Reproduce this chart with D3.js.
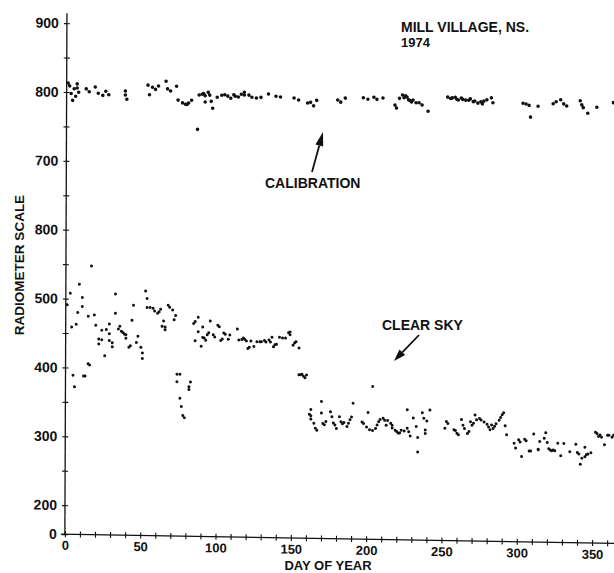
<!DOCTYPE html>
<html>
<head>
<meta charset="utf-8">
<script src="https://cdn.jsdelivr.net/npm/d3@7"></script>
<style>
  html, body { margin: 0; padding: 0; background: #fff; }
  svg { display: block; }
  text { font-family: "Liberation Sans", Arial, Helvetica, sans-serif; font-weight: bold; fill: #111; }
</style>
</head>
<body>
<svg id="chart" width="614" height="573"></svg>
<script>
// Daily radiometer readings, Mill Village N.S., 1974
const calibrationDay = [1,2,4,7,7,8,6,3,5,19,21,24,26,28,13,15,39,39,40,54,57,59,61,55,66,67,69,73,74,77,79,81,83,80,87,88,90,92,94,92,96,97,91,95,100,103,105,107,109,111,112,114,116,118,118,121,123,126,129,134,139,142,151,154,160,162,164,166,180,182,185,197,200,204,206,210,218,219,221,223,224,225,226,227,228,229,230,232,234,236,240,253,255,256,258,259,260,262,263,265,267,268,270,271,273,275,276,277,279,282,283,303,305,307,308,313,323,325,328,330,332,341,342,343,346,352,363];
const calibrationValue = [813,809,788,812,806,800,794,798,805,808,799,796,802,797,805,801,803,797,791,812,809,806,811,798,818,807,804,811,791,787,785,787,791,785,749,799,800,798,803,789,790,780,801,799,796,799,800,798,795,800,798,797,801,800,804,800,797,796,797,802,799,798,797,794,790,791,786,794,795,792,798,799,797,800,797,799,789,785,799,804,800,803,801,797,796,794,797,793,793,790,781,802,800,801,802,799,798,801,799,798,798,800,796,797,794,796,793,797,799,802,795,795,794,792,775,791,795,798,801,795,792,800,794,790,782,791,798];

const clearSkyDay = [17,9,3,1,11,11,8,7,4,15,19,20,22,22,24,24,26,27,29,29,29,31,31,33,33,35,37,38,39,40,36,40,42,43,44,45,47,48,50,51,51,53,54,54,56,58,59,61,62,63,64,65,66,66,68,69,71,72,73,74,76,74,76,77,79,78,83,82,82,85,86,88,86,88,90,91,91,92,93,94,95,96,98,99,101,102,103,104,105,106,108,109,114,115,117,118,119,120,121,122,123,125,127,129,130,132,133,135,136,137,138,139,140,142,144,146,148,149,149,151,152,153,155,155,156,157,158,160,159,5,6,12,13,15,16,
  162,163,163,163,165,166,167,170,170,171,172,173,176,177,178,179,180,182,183,184,185,187,188,189,190,191,197,198,201,200,202,204,204,206,207,208,209,211,212,213,214,216,217,217,219,220,221,222,223,225,227,227,228,229,231,233,234,234,237,238,239,239,240,242,
  252,253,254,258,259,260,261,263,264,265,267,268,269,270,271,272,273,275,276,278,280,281,282,283,284,285,286,288,289,290,291,292,293,
  298,299,301,302,303,305,306,308,309,311,314,314,315,318,319,320,321,322,323,324,325,327,329,331,335,339,340,341,342,343,345,345,346,347,349,352,353,354,355,356,358,360,361,363,364];
const clearSkyValue = [548,521,508,491,502,489,480,463,459,475,477,462,442,435,441,455,418,456,450,464,440,437,431,508,480,457,454,452,450,449,461,444,431,433,470,492,438,447,431,415,423,513,502,489,489,488,484,481,483,487,462,470,461,457,493,490,486,472,478,393,393,382,358,346,330,333,382,375,371,467,470,476,442,455,434,462,447,446,443,451,454,471,451,448,465,463,443,445,454,452,445,451,460,444,445,447,445,443,432,434,443,435,442,442,442,444,442,445,442,449,435,438,439,449,448,448,456,457,453,438,441,443,434,395,395,396,393,395,391,389,372,388,388,406,404,
  338,336,345,331,325,318,315,357,340,325,323,328,342,335,326,323,318,335,328,325,327,321,326,331,335,355,328,326,342,321,317,316,380,319,324,329,332,334,331,324,331,327,324,320,317,315,313,313,317,316,347,320,315,309,335,323,307,286,343,335,318,313,331,347,
  321,331,328,319,318,314,312,334,326,321,314,317,331,326,329,341,334,336,334,331,328,324,320,327,322,325,329,334,338,342,345,326,313,
  301,294,306,303,282,307,305,290,290,315,293,292,304,309,317,303,294,292,291,292,291,302,284,302,290,301,289,287,272,281,297,283,286,287,289,319,317,313,315,312,301,315,315,312,315];

const xTickValues = [0, 50, 100, 150, 200, 250, 300, 350];
const xMinorStep = 10;
const yTickValues = [0, 200, 300, 400, 500, 600, 700, 800, 900];
const yTickLabels = ["0", "200", "300", "400", "500", "800", "700", "800", "900"];
const yMinorStep = 50;

const calibration = calibrationDay.map((d, i) => ({ day: d, value: calibrationValue[i] }));
const clearSky = clearSkyDay.map((d, i) => ({ day: d, value: clearSkyValue[i] }));

// The value axis is broken: 0 sits just below 200.
const x = d3.scaleLinear().domain([0, 350]).range([67, 594.2]);
const y = d3.scaleLinear().domain([0, 200, 900]).range([533, 504, 22]);

const svg = d3.select("#chart");

// Plot frame, printed slightly out of square
const frame = svg.append("g").attr("transform", "matrix(1,0.017,-0.004,1,0,0)");

// Value axis
const yLabelOf = new Map(yTickValues.map((v, i) => [v, yTickLabels[i]]));
const yAxisTicks = [0].concat(d3.range(200, 901, yMinorStep));
const yAxis = d3.axisLeft(y)
  .tickValues(yAxisTicks)
  .tickSizeInner(3)
  .tickSizeOuter(0)
  .tickPadding(5)
  .tickFormat(v => yLabelOf.has(v) ? yLabelOf.get(v) : "");
const gy = frame.append("g").attr("transform", `translate(${x(0)},0)`).call(yAxis);
gy.select(".domain").remove();
gy.selectAll(".tick line").attr("x1", 3).attr("stroke", "#111").attr("stroke-width", 1.1);
gy.selectAll(".tick text").attr("font-size", 14).attr("fill", "#111")
  .style("font-family", '"Liberation Sans", Arial, sans-serif').style("font-weight", "bold");
frame.append("line")
  .attr("x1", x(0)).attr("x2", x(0)).attr("y1", 12).attr("y2", y(0))
  .attr("stroke", "#111").attr("stroke-width", 1.3);

// Day axis
const xAxis = d3.axisBottom(x)
  .tickValues(d3.range(0, 366, xMinorStep))
  .tickSizeInner(3)
  .tickSizeOuter(0)
  .tickPadding(3.5)
  .tickFormat(v => xTickValues.includes(v) ? String(v) : "");
const gx = frame.append("g").attr("transform", `translate(0,${y(0)})`).call(xAxis);
gx.select(".domain").remove();
gx.selectAll(".tick line").attr("y1", -3).attr("stroke", "#111").attr("stroke-width", 1.1);
gx.selectAll(".tick text").attr("font-size", 13).attr("fill", "#111")
  .style("font-family", '"Liberation Sans", Arial, sans-serif').style("font-weight", "bold");
frame.append("line")
  .attr("x1", x(0) - 4).attr("x2", 640).attr("y1", y(0)).attr("y2", y(0))
  .attr("stroke", "#111").attr("stroke-width", 1.3);

// Readings
frame.append("g").selectAll("circle").data(calibration).join("circle")
  .attr("cx", d => x(d.day)).attr("cy", d => y(d.value)).attr("r", 1.8).attr("fill", "#111");
frame.append("g").selectAll("circle").data(clearSky).join("circle")
  .attr("cx", d => x(d.day)).attr("cy", d => y(d.value)).attr("r", 1.5).attr("fill", "#111");

// Labels
function label(px, py, str, anchor, size) {
  return svg.append("text").attr("x", px).attr("y", py)
    .attr("font-size", size || 14).attr("text-anchor", anchor || "start").text(str);
}
label(401, 32, "MILL VILLAGE, NS.");
label(401, 47, "1974", "start", 13);
label(265, 188, "CALIBRATION");
label(382, 330, "CLEAR SKY");
label(328, 570, "DAY OF YEAR", "middle", 13);
svg.append("text")
  .attr("transform", "translate(24,265) rotate(-90)")
  .attr("font-size", 13.5).attr("text-anchor", "middle")
  .text("RADIOMETER SCALE");

// Pointer arrows
function arrow(x1, y1, x2, y2, len, half) {
  const a = Math.atan2(y2 - y1, x2 - x1);
  const bx = x2 - len * Math.cos(a), by = y2 - len * Math.sin(a);
  svg.append("line").attr("x1", x1).attr("y1", y1).attr("x2", bx).attr("y2", by)
    .attr("stroke", "#111").attr("stroke-width", 1.8);
  const px = -Math.sin(a) * half, py = Math.cos(a) * half;
  svg.append("path")
    .attr("d", `M${x2},${y2}L${bx + px},${by + py}L${bx - px},${by - py}Z`)
    .attr("fill", "#111");
}
arrow(312, 172, 323, 132, 14, 4);
arrow(419, 335, 394, 361, 12, 4);
</script>
</body>
</html>
